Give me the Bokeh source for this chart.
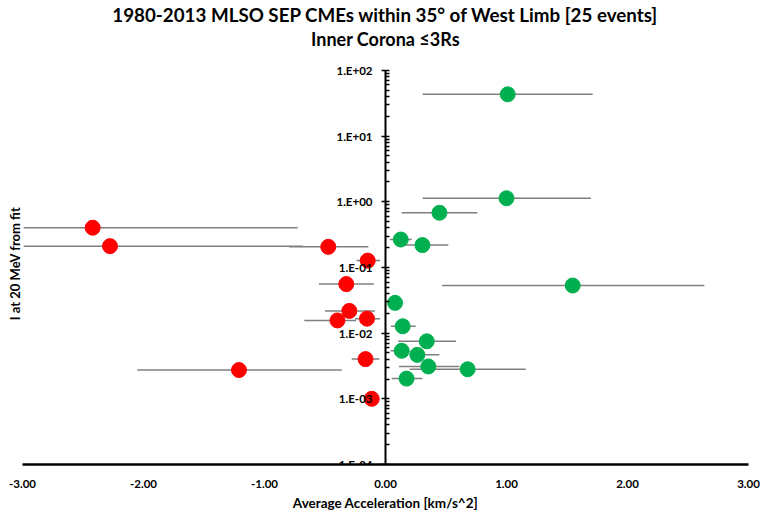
from bokeh.plotting import figure
from bokeh.models import (LogAxis, FixedTicker, CustomJSTickFormatter,
                          NumeralTickFormatter, Title, ColumnDataSource)
from bokeh.embed import file_html
from bokeh.resources import INLINE

# West-limb SEP events: average acceleration (km/s^2) with its range,
# and fitted intensity at 20 MeV
accel_pos = [1.01, 1.00, 0.446, 0.126, 0.305, 1.547, 0.079, 0.142, 0.341,
             0.134, 0.263, 0.354, 0.679, 0.174]
inten_pos = [43.2, 1.13, 0.68, 0.266, 0.219, 0.053, 0.0289, 0.0127, 0.0075,
             0.00538, 0.00467, 0.00311, 0.00282, 0.00203]
accel_pos_lo = [0.307, 0.307, 0.134, 0.037, 0.15, 0.467, 0.04, 0.045, 0.106,
                0.043, 0.2, 0.112, 0.2, 0.051]
accel_pos_hi = [1.712, 1.698, 0.759, 0.217, 0.519, 2.635, 0.12, 0.25, 0.583,
                0.2, 0.445, 0.61, 1.159, 0.304]

accel_neg = [-2.42, -2.277, -0.473, -0.147, -0.324, -0.299, -0.397, -0.153,
             -0.165, -1.211, -0.114]
inten_neg = [0.403, 0.211, 0.206, 0.127, 0.0558, 0.0218, 0.0156, 0.0166,
             0.00402, 0.00274, 0.001]
accel_neg_lo = [-2.99, -2.99, -0.798, -0.238, -0.55, -0.5, -0.671, -0.252,
                -0.279, -2.051, -0.16]
accel_neg_hi = [-0.726, -0.684, -0.142, -0.045, -0.095, -0.087, -0.244,
                -0.045, -0.051, -0.362, -0.07]

x_ticks = [-3, -2, -1, 0, 1, 2, 3]
y_ticks = [1e-4, 1e-3, 1e-2, 1e-1, 1e0, 1e1, 1e2]
y_tick_labels = ["1.E-04", "1.E-03", "1.E-02", "1.E-01", "1.E+00", "1.E+01", "1.E+02"]

FONT = "Lato"
INK = "black"

# a little headroom above 1e2 keeps the top tick label inside the frame
p = figure(width=760, height=513, x_range=(-3, 3), y_range=(1e-4, 10 ** 2.12),
           y_axis_type="log", output_backend="svg", toolbar_location=None,
           min_border_left=22, min_border_right=12, min_border_top=0,
           min_border_bottom=0, outline_line_color=None)
p.grid.visible = False
p.background_fill_color = "white"

# title block: blank spacer nearest the frame, then the two title lines
spacer = Title(text=" ", text_font=FONT, text_font_size="9px", standoff=0)
sub = Title(text="Inner Corona \u22643Rs", align="center", text_color=INK,
            text_font=FONT, text_font_size="18px", text_font_style="bold",
            standoff=0)
main = Title(text="1980-2013 MLSO SEP CMEs within 35\u00b0 of West Limb [25 events]",
             align="center", text_color=INK, text_font=FONT,
             text_font_size="18.75px", text_font_style="bold", standoff=0)
p.add_layout(spacer, "above")
p.add_layout(sub, "above")
p.add_layout(main, "above")

# x axis along the bottom
xa = p.xaxis[0]
xa.ticker = FixedTicker(ticks=x_ticks)
xa.formatter = NumeralTickFormatter(format="0.00")
xa.major_tick_line_color = None
xa.minor_tick_line_color = None
xa.axis_line_width = 2.5
xa.axis_line_color = INK
xa.major_label_standoff = 9
xa.major_label_text_font = FONT
xa.major_label_text_font_size = "11.5px"
xa.major_label_text_font_style = "bold"
xa.major_label_text_color = INK
xa.axis_label = "Average Acceleration [km/s^2]"
xa.axis_label_text_font = FONT
xa.axis_label_text_font_size = "13.5px"
xa.axis_label_text_font_style = "bold"
xa.axis_label_text_color = INK
xa.axis_label_standoff = 4

# left panel only carries the y-axis title
ya = p.yaxis[0]
ya.ticker = FixedTicker(ticks=[])
ya.axis_line_color = None
ya.major_tick_line_color = None
ya.minor_tick_line_color = None
ya.axis_label = "I at 20 MeV from fit"
ya.axis_label_text_font = FONT
ya.axis_label_text_font_size = "13px"
ya.axis_label_text_font_style = "bold"
ya.axis_label_text_color = INK
ya.axis_label_standoff = 0

# log axis drawn through x = 0, spanning 1e-4 .. 1e2
minor = [m * 10.0 ** e for e in range(-4, 2) for m in range(2, 10)]
yc = LogAxis(fixed_location=0, bounds=(y_ticks[0], y_ticks[-1]),
             ticker=FixedTicker(ticks=y_ticks, minor_ticks=minor),
             formatter=CustomJSTickFormatter(
                 args=dict(tvals=y_ticks, tlabels=y_tick_labels),
                 code="""
const i = tvals.findIndex(t => Math.abs(Math.log10(t) - Math.log10(tick)) < 1e-6);
return i >= 0 ? tlabels[i] : "";
"""),
             axis_line_width=2, axis_line_color=INK,
             major_tick_in=4, major_tick_out=4, major_tick_line_width=1.5,
             major_tick_line_color=INK,
             minor_tick_in=4, minor_tick_out=0, minor_tick_line_width=1.5,
             minor_tick_line_color=INK,
             major_label_standoff=9, major_label_text_font=FONT,
             major_label_text_font_size="11.5px",
             major_label_text_font_style="bold", major_label_text_color=INK)
p.add_layout(yc, "left")

neg = ColumnDataSource(dict(x=accel_neg, y=inten_neg, lo=accel_neg_lo, hi=accel_neg_hi))
pos = ColumnDataSource(dict(x=accel_pos, y=inten_pos, lo=accel_pos_lo, hi=accel_pos_hi))

# acceleration ranges as horizontal bars
for src in (neg, pos):
    p.segment(x0="lo", x1="hi", y0="y", y1="y", source=src,
              line_color="#7f7f7f", line_width=1.5)

p.scatter("x", "y", source=neg, size=15, marker="circle",
          fill_color="#ff0000", line_color="#ff0000")
p.scatter("x", "y", source=pos, size=15, marker="circle",
          fill_color="#00b050", line_color="#00b050")

open("out.html", "w").write(file_html(p, INLINE))
